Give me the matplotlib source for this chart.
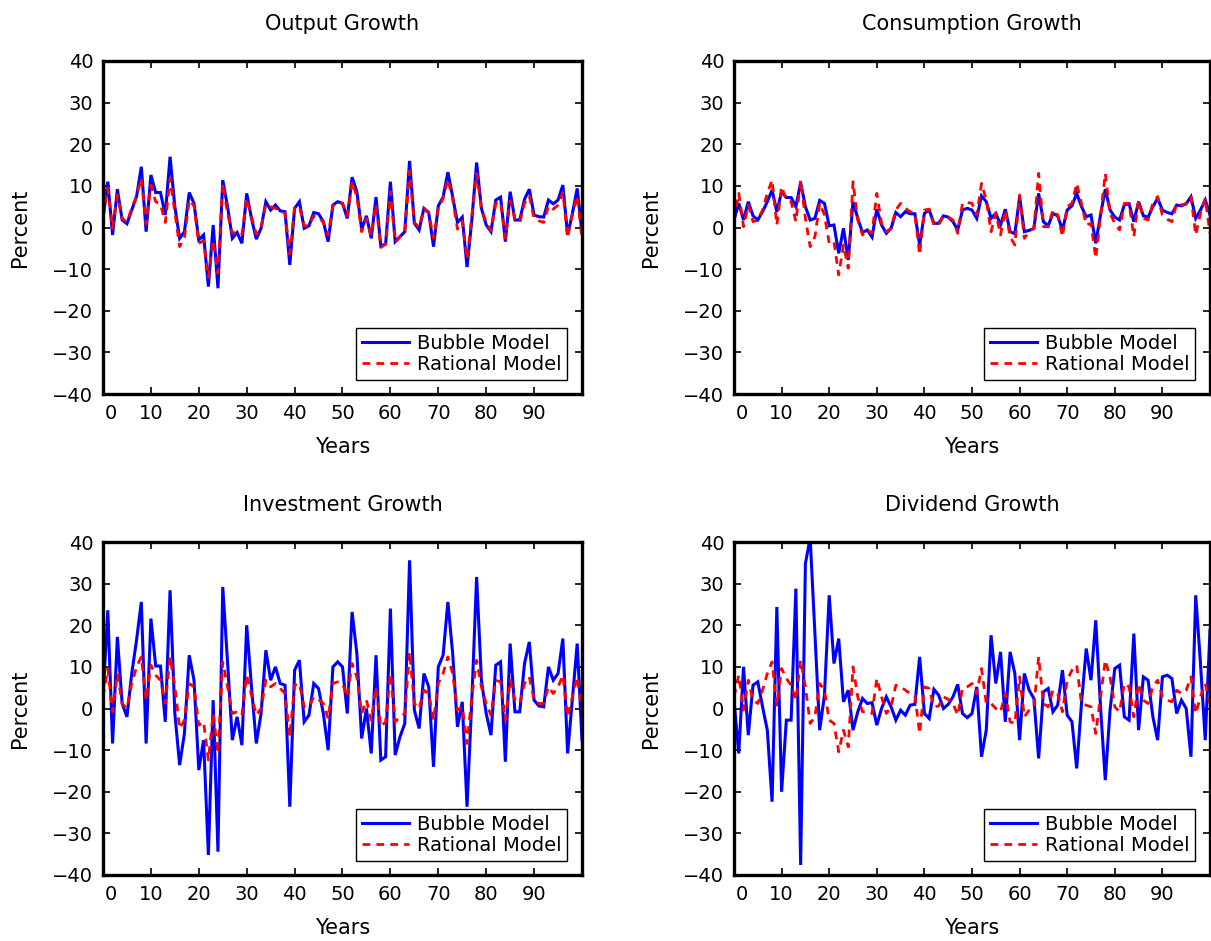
import numpy as np
import matplotlib
matplotlib.use("Agg")
import matplotlib.pyplot as plt
import matplotlib.transforms as mtransforms
from typing import List

# years 0..100, percent growth
years = np.arange(101)

output_bubble = [
    2.2, 11.0, -1.8, 9.2, 1.8, 0.9, 4.2, 7.4, 14.6, -1.0,
    12.6, 8.4, 8.4, 3.0, 17.0, 5.0, -2.6, -1.0, 8.4, 5.8,
    -3.0, -1.8, -14.2, 0.6, -14.6, 11.4, 5.0, -2.6, -1.2, -3.8,
    8.2, 2.2, -2.8, -0.2, 6.2, 4.2, 5.4, 4.0, 3.8, -9.0,
    4.6, 6.2, -0.2, 0.4, 3.6, 3.3, 1.4, -3.4, 5.4, 6.2,
    5.8, 2.2, 12.1, 8.6, -0.4, 2.8, -2.6, 7.3, -4.4, -4.0,
    11.0, -3.4, -2.2, -1.0, 16.0, 1.0, -0.6, 4.6, 3.6, -4.6,
    5.2, 7.3, 13.3, 7.4, 1.2, 2.5, -9.5, 1.8, 15.6, 4.6,
    0.6, -1.0, 6.6, 7.3, -3.4, 8.6, 1.8, 1.8, 6.8, 9.2,
    3.0, 2.6, 2.5, 6.6, 5.7, 6.6, 10.2, -1.8, 3.4, 9.4,
    -1.4,
]
output_rational = [
    2.6, 9.5, -0.2, 7.8, 2.2, 1.2, 4.6, 7.6, 11.8, 0.8,
    10.2, 6.2, 5.6, 1.2, 11.8, 3.6, -4.6, -2.4, 6.6, 5.2,
    -3.8, -3.2, -12.0, -3.0, -11.0, 10.6, 3.4, -1.4, -1.0, -1.6,
    7.0, 2.6, -1.6, 0.0, 5.6, 5.0, 4.6, 4.0, 3.4, -6.4,
    4.8, 5.0, 0.4, 0.4, 2.8, 2.6, 1.2, -1.8, 5.2, 5.8,
    5.8, 2.8, 11.0, 7.4, -1.0, 2.2, -2.0, 5.6, -4.8, -4.0,
    8.6, -3.6, -2.2, -1.2, 13.6, 1.2, 0.0, 4.6, 3.4, -2.6,
    4.6, 7.0, 11.6, 6.8, -0.4, 1.6, -7.6, 2.8, 13.0, 4.6,
    1.2, -0.8, 5.8, 6.2, -2.6, 6.4, 2.0, 1.2, 5.8, 7.6,
    2.2, 1.6, 1.2, 5.2, 4.4, 5.4, 8.4, -2.4, 3.2, 7.6,
    -2.8,
]

consumption_bubble = [
    1.8, 5.8, 1.8, 6.2, 2.8, 1.8, 3.8, 6.2, 9.0, 3.8,
    8.6, 7.2, 7.2, 5.0, 10.8, 5.0, 1.8, 2.2, 6.5, 5.8,
    0.4, 0.6, -6.2, -0.2, -7.8, 6.2, 2.2, -1.2, -0.6, -2.3,
    4.4, 0.6, -1.4, -0.2, 3.6, 2.6, 3.8, 3.3, 3.3, -4.2,
    3.4, 4.2, 1.0, 1.0, 2.8, 2.5, 1.4, -0.6, 4.2, 4.6,
    4.2, 2.2, 7.6, 6.2, 2.2, 3.4, 0.6, 4.4, -1.0, -1.5,
    7.3, -1.0, -0.7, -0.2, 8.2, 1.4, 0.4, 3.4, 2.8, -0.6,
    4.2, 5.2, 8.2, 5.0, 2.6, 3.0, -3.8, 3.0, 9.2, 4.2,
    2.5, 1.8, 5.4, 5.7, 1.4, 6.2, 2.8, 2.5, 5.0, 7.0,
    4.2, 3.6, 3.3, 5.4, 5.2, 5.7, 7.4, 2.2, 4.2, 6.6,
    3.0,
]
consumption_rational = [
    1.6, 8.2, 0.2, 5.4, 1.4, 1.8, 4.2, 8.2, 11.4, 0.6,
    9.8, 6.6, 6.2, 1.4, 11.3, 2.2, -4.6, -2.2, 5.8, 3.0,
    -3.8, -3.4, -11.4, -4.2, -9.8, 11.0, 1.8, -1.8, -0.6, -1.4,
    8.2, 1.0, -1.0, -0.2, 4.2, 5.8, 4.6, 3.8, 3.4, -6.6,
    4.2, 4.4, 0.6, 0.6, 2.8, 2.5, 1.8, -1.4, 5.8, 6.0,
    5.8, 3.0, 10.6, 6.6, -1.0, 3.4, -1.8, 4.2, -2.2, -4.2,
    7.8, -2.6, -1.0, -0.2, 13.0, 0.2, 0.2, 4.2, 3.0, -2.2,
    5.0, 5.8, 10.6, 5.8, 0.6, 1.0, -7.4, 2.6, 13.0, 3.4,
    1.0, -0.6, 5.8, 5.8, -2.2, 6.6, 2.2, 1.8, 5.8, 7.4,
    3.0, 2.0, 1.4, 5.8, 5.4, 5.8, 7.4, -1.8, 3.4, 7.0,
    -1.4,
]

investment_bubble = [
    2.4, 23.6, -8.4, 17.2, 1.2, -2.0, 8.4, 16.4, 25.6, -8.4,
    21.6, 10.2, 10.2, -3.2, 28.4, -1.2, -13.6, -6.0, 12.8, 6.8,
    -14.8, -7.6, -35.2, 2.0, -34.4, 29.2, 11.2, -7.6, -2.0, -8.8,
    20.0, 5.2, -8.4, -1.2, 14.0, 6.8, 10.0, 6.0, 5.6, -23.6,
    9.2, 11.6, -3.2, -1.6, 6.0, 4.8, -1.2, -10.0, 10.0, 11.2,
    10.0, -1.2, 23.2, 13.2, -7.2, 0.0, -10.8, 12.8, -12.4, -11.6,
    24.0, -11.2, -6.8, -3.6, 35.6, -0.4, -4.8, 8.4, 5.2, -14.0,
    10.0, 12.8, 25.6, 13.2, -4.4, 1.6, -23.6, 2.0, 31.6, 6.8,
    -1.2, -6.4, 10.4, 11.2, -12.8, 15.6, -0.8, -0.8, 10.8, 16.0,
    2.0, 0.6, 0.4, 10.0, 6.8, 8.4, 16.8, -10.8, 2.4, 15.6,
    -7.6,
]
investment_rational = [
    2.8, 9.6, -0.8, 8.4, 1.2, 0.0, 6.0, 10.0, 12.4, 2.0,
    10.4, 8.0, 6.8, 1.2, 12.4, 5.2, -4.8, -2.8, 6.0, 5.2,
    -4.0, -3.2, -12.4, -1.2, -10.8, 11.2, 5.2, -1.2, -0.8, -1.6,
    8.0, 3.2, -1.6, 0.0, 6.8, 5.2, 6.0, 4.8, 3.6, -6.8,
    5.6, 6.0, 0.4, 0.4, 2.8, 2.2, 1.2, -2.4, 6.0, 6.4,
    6.0, 2.8, 10.8, 7.6, -1.2, 2.0, -2.8, 5.2, -4.4, -3.2,
    8.4, -3.2, -2.0, -1.2, 13.6, 1.2, 0.0, 4.4, 3.6, -2.8,
    6.0, 8.4, 12.4, 8.4, -0.4, 0.4, -8.4, 2.8, 11.6, 5.2,
    1.2, -1.6, 6.8, 6.4, -2.8, 6.8, 2.0, 1.2, 6.0, 7.6,
    2.0, 1.2, 1.2, 5.2, 3.6, 5.2, 8.0, -2.0, 2.8, 7.6,
    -0.4,
]

dividend_bubble = [
    2.0, -10.8, 10.0, -6.4, 5.6, 6.4, 0.4, -5.2, -22.4, 24.4,
    -20.0, -2.8, -2.8, 28.8, -37.6, 34.8, 41.0, 18.0, -5.2, 3.2,
    27.2, 10.8, 16.8, 1.6, 4.4, -5.2, -0.8, 2.4, 1.2, 1.4,
    -4.0, 0.0, 2.8, 0.4, -2.8, -0.4, -1.6, 0.8, 1.0, 12.4,
    -1.2, -2.4, 4.6, 3.2, 0.0, 1.0, 2.8, 5.8, -1.2, -2.2,
    -1.2, 5.2, -11.6, -5.2, 17.6, 6.0, 13.6, -3.2, 13.6, 8.4,
    -7.6, 8.4, 4.4, 2.4, -12.0, 4.0, 4.8, -0.8, 0.8, 9.2,
    -1.6, -3.2, -14.4, 1.2, 14.4, 6.8, 21.2, 0.4, -17.2, -0.4,
    9.6, 10.4, -2.0, -2.8, 18.0, -5.2, 7.6, 6.8, -2.0, -7.6,
    7.6, 8.0, 7.2, -1.2, 2.0, 0.0, -11.6, 27.2, 10.8, -7.6,
    18.8,
]
dividend_rational = [
    2.8, 8.0, -0.4, 6.8, 2.0, 1.2, 4.4, 8.4, 11.2, 0.8,
    9.6, 7.2, 5.6, 2.0, 11.6, 5.2, -3.6, -2.0, 6.0, 4.4,
    -2.8, -3.6, -10.4, -5.2, -9.2, 10.0, 2.8, -0.8, -0.8, -1.2,
    7.2, 2.8, -1.2, 0.4, 5.6, 5.2, 4.4, 3.6, 3.2, -6.0,
    5.2, 4.8, 0.4, 0.6, 2.8, 2.2, 1.2, -1.6, 4.8, 5.2,
    6.0, 3.6, 9.6, 1.2, 1.2, 0.0, -0.8, 3.6, -3.2, -3.6,
    7.6, -2.0, -0.4, 0.4, 12.4, 1.2, 0.4, 4.4, 3.6, -0.8,
    6.8, 9.2, 10.4, 1.2, 0.8, 0.4, -6.0, 2.8, 11.6, 7.6,
    0.4, -0.8, 6.0, 5.2, -2.0, 6.0, 2.0, 1.2, 5.2, 6.8,
    2.8, 2.0, 1.6, 4.4, 3.6, 4.4, 7.6, -1.2, 2.8, 6.0,
    1.2,
]

titles = ["Output Growth", "Consumption Growth",
          "Investment Growth", "Dividend Growth"]
bubble_series = [output_bubble, consumption_bubble,
                 investment_bubble, dividend_bubble]
rational_series = [output_rational, consumption_rational,
                   investment_rational, dividend_rational]
xtick_values = [0, 10, 20, 30, 40, 50, 60, 70, 80, 90]
ytick_values = [-40, -30, -20, -10, 0, 10, 20, 30, 40]

W, H = 1211, 941
FS = 14

# axes boxes in pixels: (left, top, right, bottom)
boxes = [(103, 61, 582, 394), (734, 61, 1210, 394),
         (103, 542, 582, 875), (734, 542, 1210, 875)]


def add_panel(fig: plt.Figure, box, title: str,
              bubble: List[float], rational: List[float]) -> plt.Axes:
    l, t, r, b = box
    ax = fig.add_axes([l / W, (H - b) / H, (r - l) / W, (b - t) / H])

    ax.plot(years, bubble, color="#0000ff", lw=2.2, label="Bubble Model",
            solid_joinstyle="miter")
    ax.plot(years, rational, color="#ff0000", lw=2.0, dashes=(2.8, 2.2),
            label="Rational Model")

    ax.set_xlim(0, 100)
    ax.set_ylim(-40, 40)
    ax.set_xticks(xtick_values)
    ax.set_xticklabels([str(v) for v in xtick_values])
    ax.set_yticks(ytick_values)
    ax.tick_params(direction="in", length=5, width=1.2, labelsize=FS,
                   top=True, right=True, pad=7)
    # IDL style: the "0" label sits a little inside the left edge
    lbl0 = ax.get_xticklabels()[0]
    lbl0.set_transform(lbl0.get_transform() +
                       mtransforms.ScaledTranslation(8 / 100, 0, fig.dpi_scale_trans))
    for s in ax.spines.values():
        s.set_linewidth(2.4)

    ax.set_title(title, fontsize=FS + 1, pad=22)
    ax.set_xlabel("Years", fontsize=FS + 1, labelpad=10)
    ax.set_ylabel("Percent", fontsize=FS + 1, labelpad=16)

    # legend box: right edge ~15 px, bottom ~14 px inside the axes
    leg = ax.legend(loc="lower right", fontsize=FS, fancybox=False,
                    framealpha=1, edgecolor="black", handlelength=2.4,
                    handletextpad=0.4, borderpad=0.3, labelspacing=0.1,
                    borderaxespad=0,
                    bbox_to_anchor=(1 - 15 / (r - l), 14 / (b - t)))
    leg.get_frame().set_linewidth(1.0)
    return ax


fig = plt.figure(figsize=(W / 100, H / 100), dpi=100)
for box, title, bub, rat in zip(boxes, titles, bubble_series, rational_series):
    add_panel(fig, box, title, bub, rat)

fig.savefig("out.png", dpi=100)
